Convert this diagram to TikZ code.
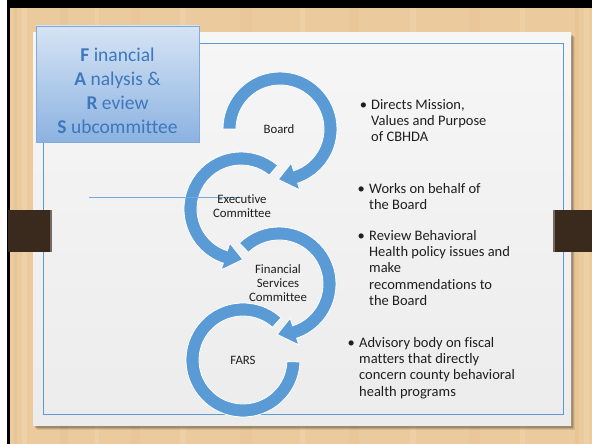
\documentclass[tikz,border=0pt]{standalone}
\usepackage{fontspec}
\setmainfont{Carlito}[Ligatures=NoCommon]
\definecolor{arrowblue}{HTML}{5B9BD5}
\definecolor{wood}{HTML}{EBCB9E}
\definecolor{woodd}{HTML}{D8AA6E}
\definecolor{woodl}{HTML}{F3DDB8}
\definecolor{tabbrown}{HTML}{3A2A1E}
\definecolor{titletext}{HTML}{3C78BE}
\definecolor{boxtop}{HTML}{D6E4F4}
\definecolor{boxbot}{HTML}{8CB2E1}
\definecolor{boxline}{HTML}{7FAADF}
\definecolor{frameblue}{HTML}{5B9BD5}
\definecolor{textdark}{HTML}{1E1E1E}
\definecolor{paneltop}{HTML}{F6F6F6}
\definecolor{panelbot}{HTML}{ECECEC}
\newcommand\ringarrow[4]{%
  \fill[arrowblue, draw=white, line width=0.8pt, shift={#1}]
    (#2:57pt) arc[start angle=#2, end angle=#3, radius=57pt]
    -- (#3:64pt) -- (#4:50.5pt) -- (#3:36pt) -- (#3:44pt)
    arc[start angle=#3, end angle=#2, radius=44pt] -- cycle;}
\begin{document}
\begin{tikzpicture}[x=1pt,y=1pt,
  lab/.style={inner sep=0pt, align=center, text=textdark,
    font=\fontsize{12.8}{14}\selectfont},
  bulletbox/.style={inner sep=0pt, anchor=base west, text=textdark,
    font=\fontsize{14.5}{16.2}\selectfont}]
\useasboundingbox (0,0) rectangle (592,444);
% background: white margin, black frame, wood
\fill[white] (0,0) rectangle (592,444);
\fill[black] (7,0) rectangle (592,444);
\fill[wood] (10,0) rectangle (592,436);
% wood grain (subtle)
\foreach \gx/\gw/\gc/\go in {14/3/woodd/0.18, 22/5/woodl/0.35, 60/8/woodd/0.12, 95/4/woodl/0.3,
  130/10/woodd/0.1, 180/6/woodl/0.3, 240/12/woodd/0.1, 300/5/woodl/0.3, 350/9/woodd/0.1,
  410/6/woodl/0.3, 470/10/woodd/0.1, 520/5/woodl/0.3, 575/4/woodd/0.18, 584/5/woodl/0.3}
  \fill[\gc, opacity=\go] (\gx,0) rectangle (\gx+\gw,436);
% panel shadow
\foreach \s/\o in {4/0.08, 3/0.12, 2/0.16}
  \fill[black, opacity=\o] (33+\s,18-\s) rectangle (571+\s,411-\s);
% panel
\shade[top color=paneltop, bottom color=panelbot] (33,18) rectangle (571,411);
\draw[frameblue, line width=0.9pt] (43,30) rectangle (563,401);
% tabs
\fill[tabbrown] (8,192) rectangle (52,234);
\fill[tabbrown!70!white] (50,192) rectangle (52,234);
\fill[tabbrown] (553,192) rectangle (592,234);
\fill[tabbrown!70!white] (553,192) rectangle (555,234);
% title box
\node[draw=boxline, line width=0.8pt, top color=boxtop, bottom color=boxbot,
  minimum width=163pt, minimum height=116pt, inner sep=0pt] (titlebox) at (117.5,360) {};
\node[inner sep=0pt, align=center, text=titletext,
  font=\fontsize{19.5}{24}\selectfont] (title) at (117.5,353)
  {\textbf{F} inancial\\ \textbf{A} nalysis \&\\ \textbf{R} eview\\ \textbf{S} ubcommittee};
% ring centres
\coordinate (cboard) at (280,315);
\coordinate (cexec) at (241,235);
\coordinate (cfin) at (279,160);
\coordinate (cfars) at (243,84);
% rings
\fill[arrowblue, draw=white, line width=0.8pt, shift={(cfars)}]
  (48:57pt) arc[start angle=48, end angle=358, radius=57pt]
  -- (358:44pt) arc[start angle=358, end angle=48, radius=44pt] -- cycle;
\ringarrow{(cfin)}{134}{-72}{-92}
\ringarrow{(cexec)}{50}{252}{272}
\ringarrow{(cboard)}{180}{-72}{-92}
% horizontal line
\coordinate (hlstart) at (89,247);
\coordinate (hlend) at (241,247);
\draw[frameblue!85!white, line width=0.8pt] (hlstart) -- (hlend);
% labels
\node[lab] (board) at (279,315) {Board};
\node[lab] (exec) at (242,237.5) {Executive\\Committee};
\node[lab] (fin) at (278,160.5) {Financial\\Services\\Committee};
\node[lab] (fars) at (243,84) {FARS};
% bullets
\node[bulletbox] (b1) at (359.7,334.5) {\makebox[11.3pt][l]{\textbullet}\begin{tabular}[t]{@{}l@{}}Directs Mission,\\Values and Purpose\\of CBHDA\end{tabular}};
\node[bulletbox] (b2) at (357.5,250.5) {\makebox[11.5pt][l]{\textbullet}\begin{tabular}[t]{@{}l@{}}Works on behalf of\\the Board\end{tabular}};
\node[bulletbox] (b3) at (357.5,203.5) {\makebox[11.5pt][l]{\textbullet}\begin{tabular}[t]{@{}l@{}}Review Behavioral\\Health policy issues and\\make\\recommendations to\\the Board\end{tabular}};
\node[bulletbox] (b4) at (347.5,96.5) {\makebox[11.5pt][l]{\textbullet}\begin{tabular}[t]{@{}l@{}}Advisory body on fiscal\\matters that directly\\concern county behavioral\\health programs\end{tabular}};
\end{tikzpicture}
\end{document}
